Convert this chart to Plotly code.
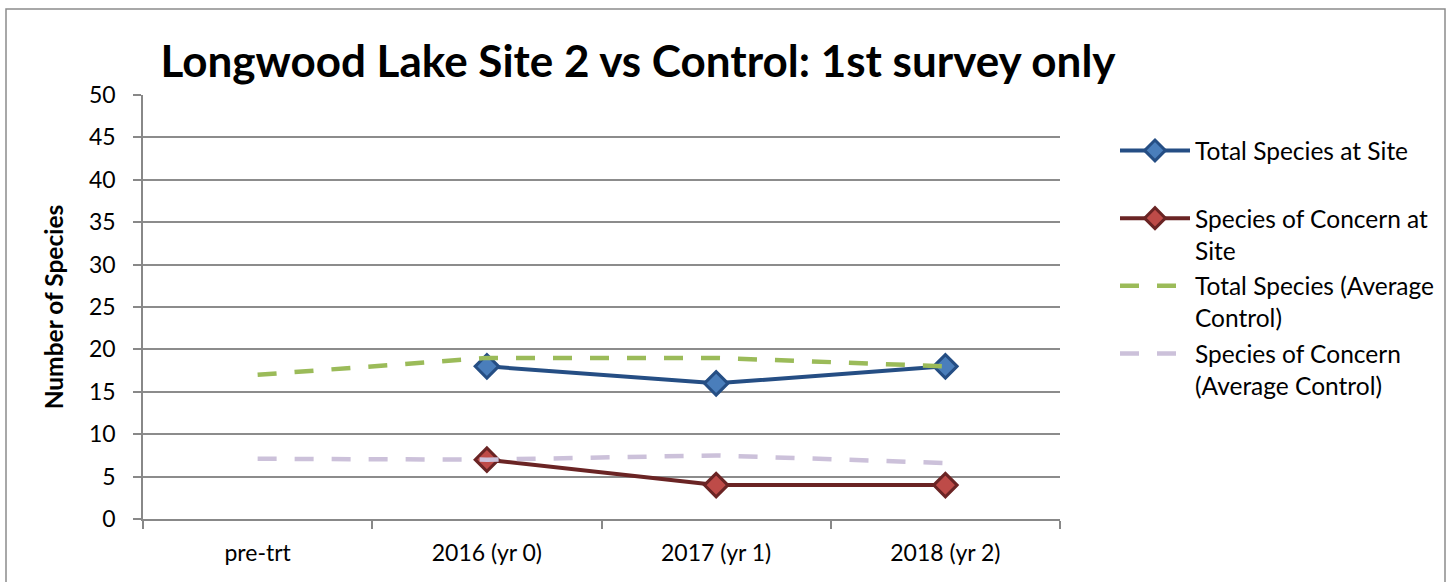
import plotly.graph_objects as go

categories = ["pre-trt", "2016 (yr 0)", "2017 (yr 1)", "2018 (yr 2)"]
total_site = [None, 18, 16, 18]
concern_site = [None, 7, 4, 4]
total_control = [17, 19, 19, 18]
concern_control = [7.1, 7.0, 7.5, 6.6]

names = [
    "Total Species at Site<br> ",
    "Species of Concern at<br>Site",
    "Total Species (Average<br>Control)",
    "Species of Concern<br>(Average Control)",
]

FONT = "Lato"
W, H = 1452, 582
L, R, T, B = 143, 392, 95, 63

fig = go.Figure()
fig.add_trace(go.Scatter(
    x=categories, y=total_site, name=names[0], mode="lines+markers",
    line=dict(color="#254E84", width=4),
    marker=dict(symbol="diamond", size=18, color="#4A7EBB",
                line=dict(color="#254E84", width=3)),
    legendgroup="a"))
fig.add_trace(go.Scatter(
    x=categories, y=concern_site, name=names[1], mode="lines+markers",
    line=dict(color="#6A2424", width=4),
    marker=dict(symbol="diamond", size=18, color="#BE4B48",
                line=dict(color="#6A2424", width=3)),
    legendgroup="b"))
fig.add_trace(go.Scatter(
    x=categories, y=total_control, name=names[2], mode="lines",
    line=dict(color="#9BBB59", width=4.5, dash="19px,18px"),
    legendgroup="c"))
fig.add_trace(go.Scatter(
    x=categories, y=concern_control, name=names[3], mode="lines",
    line=dict(color="#CCC1DA", width=4.5, dash="19px,18px"),
    legendgroup="d"))

pw = W - L - R
ph = H - T - B

fig.update_layout(
    width=W, height=H,
    margin=dict(l=L, r=R, t=T, b=B),
    paper_bgcolor="white", plot_bgcolor="white",
    font=dict(family=FONT, size=23, color="black"),
    title=dict(text="<b>Longwood Lake Site 2 vs Control: 1st survey only</b>",
               font=dict(family=FONT, size=44, color="black"),
               x=638 / W, xanchor="center", xref="container",
               y=1 - 62 / H, yanchor="middle", yref="container"),
    showlegend=True,
    legend=dict(x=(1115 - L) / pw, xanchor="left", y=1 - (128 - T) / ph,
                yanchor="top", valign="top", itemwidth=70,
                tracegroupgap=1, font=dict(family=FONT, size=24.5, color="black"),
                bgcolor="rgba(0,0,0,0)"),
    xaxis=dict(range=[-0.5, 3.5], type="category", showgrid=False,
               showline=True, linecolor="#888888", linewidth=1.5,
               ticks="outside", ticklen=8, tickcolor="#888888", tickwidth=1.5,
               tickson="boundaries", ticklabelstandoff=13,
               tickfont=dict(family=FONT, size=23), zeroline=False),
    yaxis=dict(range=[0, 50], dtick=5, showgrid=True, gridcolor="#8C8C8C",
               gridwidth=1.5, showline=True, linecolor="#888888", linewidth=1.5,
               ticks="outside", ticklen=8, tickcolor="#888888", tickwidth=1.5,
               ticklabelstandoff=13,
               tickfont=dict(family=FONT, size=23), zeroline=False,
               title=dict(text="<b>Number of Species</b>",
                          font=dict(family=FONT, size=24.5), standoff=18)),
)

fig.add_shape(type="rect", xref="paper", yref="paper",
              x0=(6 - L) / pw, x1=(1445 - L) / pw,
              y0=(H - B - 600) / ph, y1=(H - B - 9) / ph,
              line=dict(color="#8C8C8C", width=1.5), fillcolor="rgba(0,0,0,0)",
              layer="below")

fig.write_html("out.html", config={"displayModeBar": False},
               post_script="document.body.style.margin='0px';")
